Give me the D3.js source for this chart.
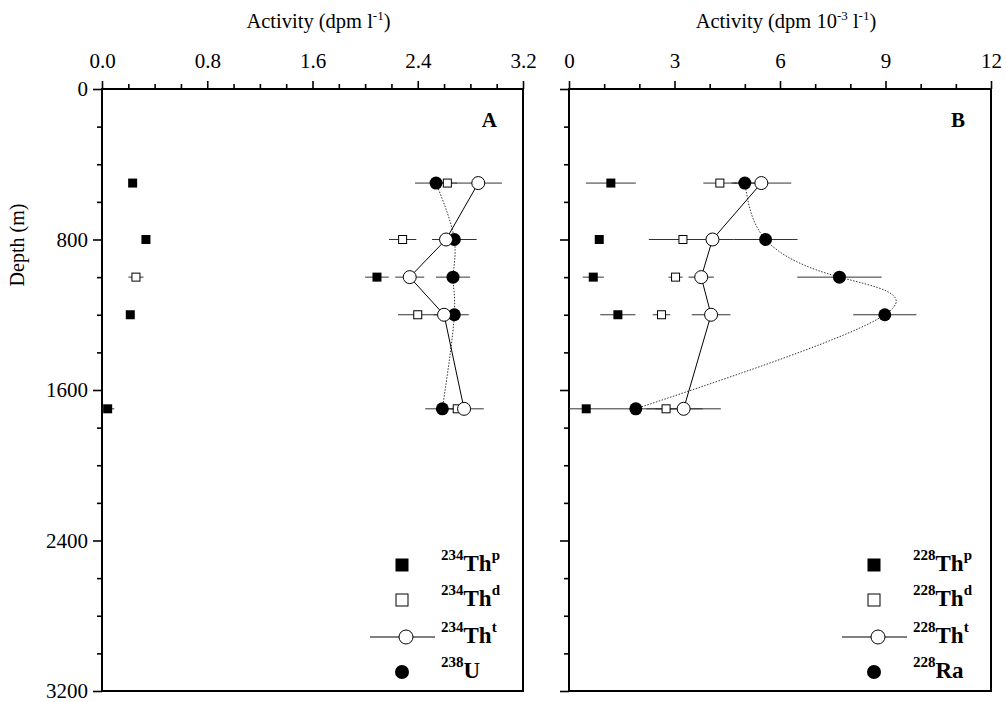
<!DOCTYPE html>
<html>
<head>
<meta charset="utf-8">
<script src="https://cdn.jsdelivr.net/npm/d3@7"></script>
<style>
  body { margin: 0; background: #fff; }
  svg { display: block; font-family: "Liberation Serif", "Times New Roman", serif; }
</style>
</head>
<body>
<svg width="1006" height="702"></svg>
<script>
// sampling depths (m)
const depths = [500, 800, 1000, 1200, 1700];

// Panel A : 234Th / 238U (dpm l-1)
const thPA = [0.233, 0.334, 2.09, 0.215, 0.043];
const thPAErr = [0, 0, 0.09, 0, 0.05];
const thDA = [2.625, 2.285, 0.258, 2.40, 2.70];
const thDAErr = [0.05, 0.104, 0.057, 0.15, 0.05];
const thTA = [2.86, 2.615, 2.339, 2.60, 2.752];
const thTAErr = [0.18, 0.106, 0.11, 0.08, 0.15];
const uA = [2.539, 2.678, 2.668, 2.678, 2.587];
const uAErr = [0.16, 0.17, 0.13, 0.11, 0.13];

// Panel B : 228Th / 228Ra (dpm 10-3 l-1)
const thPB = [1.19, 0.86, 0.69, 1.39, 0.49];
const thPBErr = [0.71, 0, 0.3, 0.5, 0];
const thDB = [4.29, 3.24, 3.03, 2.63, 2.76];
const thDBErr = [0.47, 0.97, 0.2, 0.25, 0.3];
const thTB = [5.47, 4.08, 3.76, 4.04, 3.26];
const thTBErr = [0.85, 0.6, 0.36, 0.55, 1.06];
const raB = [5.0, 5.59, 7.69, 8.98, 1.9];
const raBErr = [0.3, 0.91, 1.2, 0.9, 1.9];

// tick labels
const yTicks = [0, 800, 1600, 2400, 3200];
const xTicksA = [0, 0.8, 1.6, 2.4, 3.2];
const xTicksB = [0, 3, 6, 9, 12];

const svg = d3.select('svg');

// shared depth scale
const yTop = 89, yBottom = 691;
const yScale = d3.scaleLinear().domain([0, 3200]).range([yTop, yBottom]);

const panels = [
  {
    letter: 'A', x0: 102, x1: 523, max: 3.2, ticks: xTicksA, minor: 0.2, fmt: d3.format('.1f'),
    yLabels: true, iso: '234', parent: '238', parentSym: 'U',
    title: [['Activity (dpm l', 0], ['-1', 1], [')', 0]],
    series: { p: [thPA, thPAErr], d: [thDA, thDAErr], t: [thTA, thTAErr], par: [uA, uAErr] },
    legX: 402, legText: 441
  },
  {
    letter: 'B', x0: 569, x1: 991, max: 12, ticks: xTicksB, minor: 1, fmt: d3.format('d'),
    yLabels: false, iso: '228', parent: '228', parentSym: 'Ra',
    title: [['Activity (dpm 10', 0], ['-3', 1], [' l', 0], ['-1', 1], [')', 0]],
    series: { p: [thPB, thPBErr], d: [thDB, thDBErr], t: [thTB, thTBErr], par: [raB, raBErr] },
    legX: 874, legText: 913
  }
];

panels.forEach(p => {
  const xScale = d3.scaleLinear().domain([0, p.max]).range([p.x0, p.x1]);
  const g = svg.append('g');

  // frame
  g.append('rect')
    .attr('x', p.x0).attr('y', yTop)
    .attr('width', p.x1 - p.x0).attr('height', yBottom - yTop)
    .attr('fill', 'none').attr('stroke', '#000').attr('stroke-width', 2);

  // top axis: major + minor ticks
  const minorX = d3.range(0, p.max + 1e-9, p.minor).filter(v => !p.ticks.some(t => Math.abs(t - v) < 1e-6));
  g.append('g').attr('transform', `translate(0,${yTop})`)
    .call(d3.axisTop(xScale).tickValues(p.ticks).tickFormat(p.fmt).tickSize(8).tickPadding(13))
    .call(a => a.select('.domain').remove())
    .call(a => a.selectAll('line').attr('stroke-width', 1.6))
    .call(a => a.selectAll('text').attr('font-size', 21).attr('font-family', 'Liberation Serif').attr('fill', '#000'));
  g.append('g').attr('transform', `translate(0,${yTop})`)
    .call(d3.axisTop(xScale).tickValues(minorX).tickFormat('').tickSize(5))
    .call(a => a.select('.domain').remove())
    .call(a => a.selectAll('line').attr('stroke-width', 1.6));

  // left axis
  const minorY = d3.range(0, 3201, 200).filter(v => v % 800 !== 0);
  g.append('g').attr('transform', `translate(${p.x0},0)`)
    .call(d3.axisLeft(yScale).tickValues(yTicks).tickFormat(p.yLabels ? d3.format('d') : '').tickSize(9).tickPadding(5))
    .call(a => a.select('.domain').remove())
    .call(a => a.selectAll('line').attr('stroke-width', 1.6))
    .call(a => a.selectAll('text').attr('font-size', 21).attr('font-family', 'Liberation Serif').attr('fill', '#000'));
  g.append('g').attr('transform', `translate(${p.x0},0)`)
    .call(d3.axisLeft(yScale).tickValues(minorY).tickFormat('').tickSize(5))
    .call(a => a.select('.domain').remove())
    .call(a => a.selectAll('line').attr('stroke-width', 1.6));

  // axis title
  const title = g.append('text')
    .attr('x', (p.x0 + p.x1) / 2 + 6).attr('y', 28)
    .attr('text-anchor', 'middle').attr('font-size', 20.5);
  let lifted = false;
  p.title.forEach(([t, sup]) => {
    const ts = title.append('tspan').text(t);
    if (sup && !lifted) { ts.attr('font-size', 13).attr('dy', -8); lifted = true; }
    else if (!sup && lifted) { ts.attr('dy', 8); lifted = false; }
    else if (sup) ts.attr('font-size', 13);
  });

  // panel letter
  g.append('text')
    .attr('x', p.x1 - 26).attr('y', 127)
    .attr('text-anchor', 'end').attr('font-size', 21).attr('font-weight', 'bold')
    .text(p.letter);

  const pts = (vals) => vals.map((v, i) => ({ v, d: depths[i] }));

  // error bars
  Object.values(p.series).forEach(([vals, errs]) => {
    g.selectAll(null).data(vals.map((v, i) => ({ v, e: errs[i], d: depths[i] })).filter(o => o.e > 0))
      .enter().append('line')
      .attr('x1', o => xScale(Math.max(0, o.v - o.e)))
      .attr('x2', o => xScale(o.v + o.e))
      .attr('y1', o => yScale(o.d)).attr('y2', o => yScale(o.d))
      .attr('stroke', '#333').attr('stroke-width', 1);
  });

  // parent nuclide: dotted smooth curve
  g.append('path')
    .datum(pts(p.series.par[0]))
    .attr('d', d3.line().x(o => xScale(o.v)).y(o => yScale(o.d)).curve(d3.curveNatural))
    .attr('fill', 'none').attr('stroke', '#333').attr('stroke-width', 1)
    .attr('stroke-dasharray', '1.5,1.5');

  // total Th: solid line
  g.append('path')
    .datum(pts(p.series.t[0]))
    .attr('d', d3.line().x(o => xScale(o.v)).y(o => yScale(o.d)))
    .attr('fill', 'none').attr('stroke', '#000').attr('stroke-width', 1);

  // markers
  g.selectAll(null).data(pts(p.series.par[0])).enter().append('circle')
    .attr('cx', o => xScale(o.v)).attr('cy', o => yScale(o.d)).attr('r', 6.5)
    .attr('fill', '#000');
  g.selectAll(null).data(pts(p.series.p[0])).enter().append('rect')
    .attr('x', o => xScale(o.v) - 4.5).attr('y', o => yScale(o.d) - 4.5)
    .attr('width', 9).attr('height', 9).attr('fill', '#000');
  g.selectAll(null).data(pts(p.series.d[0])).enter().append('rect')
    .attr('x', o => xScale(o.v) - 4).attr('y', o => yScale(o.d) - 4)
    .attr('width', 8).attr('height', 8)
    .attr('fill', '#fff').attr('stroke', '#000').attr('stroke-width', 1);
  g.selectAll(null).data(pts(p.series.t[0])).enter().append('circle')
    .attr('cx', o => xScale(o.v)).attr('cy', o => yScale(o.d)).attr('r', 6.5)
    .attr('fill', '#fff').attr('stroke', '#000').attr('stroke-width', 1);

  // legend
  const rows = [565, 600, 637, 672];
  const lg = g.append('g');
  lg.append('rect').attr('x', p.legX - 6.5).attr('y', rows[0] - 6.5)
    .attr('width', 13).attr('height', 13).attr('fill', '#000');
  lg.append('rect').attr('x', p.legX - 6).attr('y', rows[1] - 6)
    .attr('width', 12).attr('height', 12).attr('fill', '#fff').attr('stroke', '#000');
  lg.append('line').attr('x1', p.legX - 32).attr('x2', p.legX + 33)
    .attr('y1', rows[2]).attr('y2', rows[2]).attr('stroke', '#000');
  lg.append('circle').attr('cx', p.legX + 4).attr('cy', rows[2]).attr('r', 7)
    .attr('fill', '#fff').attr('stroke', '#000');
  lg.append('circle').attr('cx', p.legX).attr('cy', rows[3]).attr('r', 7).attr('fill', '#000');

  const labels = [[p.iso, 'Th', 'p'], [p.iso, 'Th', 'd'], [p.iso, 'Th', 't'], [p.parent, p.parentSym, '']];
  labels.forEach(([iso, sym, sup], i) => {
    const t = lg.append('text').attr('x', p.legText).attr('y', rows[i] + 6)
      .attr('font-weight', 'bold').attr('font-size', 23);
    t.append('tspan').attr('font-size', 15).attr('dy', -11).text(iso);
    t.append('tspan').attr('dy', 11).text(sym);
    if (sup) t.append('tspan').attr('font-size', 15).attr('dy', -11).text(sup);
  });
});

// y-axis title
svg.append('text')
  .attr('transform', 'translate(24,245) rotate(-90)')
  .attr('text-anchor', 'middle').attr('font-size', 20)
  .text('Depth (m)');
</script>
</body>
</html>
